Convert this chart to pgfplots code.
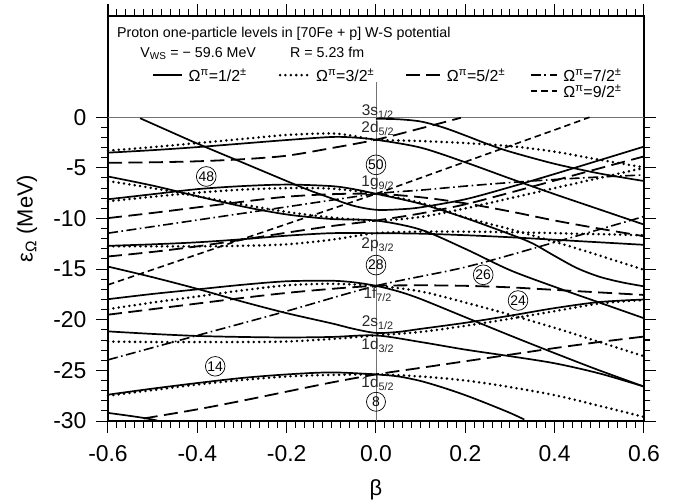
\documentclass[border=0pt]{standalone}
\usepackage{pgfplots}
\pgfplotsset{compat=1.18}
\usepackage{fontspec}
\setmainfont{Liberation Sans}
\setsansfont{Liberation Sans}
\pgfplotsset{
 oh/.style={black, line width=1.7bp, smooth, tension=0.5, no markers},
 th/.style={black, line width=2.8bp, line cap=round, dash pattern=on 0bp off 5.4bp, smooth, tension=0.5, no markers},
 fh/.style={black, line width=1.8bp, dash pattern=on 14bp off 6.5bp, smooth, tension=0.5, no markers},
 sh/.style={black, line width=1.6bp, dash pattern=on 10bp off 3.5bp on 1.6bp off 3.5bp, smooth, tension=0.5, no markers},
 nh/.style={black, line width=1.6bp, dash pattern=on 6.5bp off 4bp, smooth, tension=0.5, no markers},
 frame/.style={scale only axis, width=536bp, height=405bp,
  xmin=-0.6, xmax=0.6, ymin=-30, ymax=10,
  xtick={-0.6,-0.4,-0.2,0,0.2,0.4,0.6},
  ytick={-30,-25,-20,-15,-10,-5,0},
  minor x tick num=9, minor y tick num=4,
  tick align=outside,
  major tick length=12bp, minor tick length=6.5bp,
  every tick/.style={black, line width=1bp},
  axis line style={line width=1.1bp}},
}
\begin{document}
\begin{tikzpicture}
\useasboundingbox (-108bp,-82bp) rectangle (579bp,421bp);
% top and right ticks
\begin{axis}[frame, axis x line*=top, axis y line*=right,
  xticklabels={}, yticklabels={}, axis line style={-, black, line width=1.1bp}]
\end{axis}
\begin{axis}[
  frame,
  xticklabels={-0.6,-0.4,-0.2,0.0,0.2,0.4,0.6},
  yticklabels={-30,-25,-20,-15,-10,-5,0},
  tick pos=both,
  ticklabel style={font=\fontsize{23}{23}\selectfont},
  xticklabel style={yshift=-9bp},
  yticklabel style={xshift=-6bp},
  xlabel={β}, ylabel={ε\textsubscript{Ω} (MeV)},
  label style={font=\fontsize{22}{22}\selectfont},
  xlabel style={at={(axis description cs:0.5,-0.1704)}, anchor=center},
  ylabel style={at={(axis description cs:-0.1511,0.5)}, anchor=center},
  clip=false,
]
\draw[black, line width=1.1bp] (rel axis cs:0,1) -- (rel axis cs:1,1);
% reference lines
\draw[black!55, line width=0.8bp] (axis cs:-0.6,0) -- (axis cs:0.6,0);
\draw[black!55, line width=0.8bp] (axis cs:0,-30) -- (axis cs:0,3.45);

% Omega = 1/2 (solid)
\addplot[oh] coordinates {(0,-0.15) (0.05,-0.2) (0.1,-0.42) (0.15,-1.0) (0.2,-1.8) (0.25,-2.65) (0.3,-3.4) (0.4,-4.6) (0.5,-5.55) (0.6,-6.3)};
\addplot[oh] coordinates {(-0.6,-3.5) (-0.5,-3.25) (-0.4,-2.95) (-0.3,-2.6) (-0.2,-2.25) (-0.1,-1.95) (-0.05,-2.0) (0,-2.22) (0.1,-3.0) (0.2,-4.45) (0.3,-6.05) (0.4,-7.6) (0.5,-9.1) (0.6,-10.6)};
\addplot[oh] coordinates {(-0.528,-0.1) (-0.5,-0.65) (-0.4,-2.6) (-0.3,-4.45) (-0.2,-6.3) (-0.15,-7.2) (-0.1,-8.0) (-0.05,-8.75) (0,-9.14) (0.05,-9.1) (0.1,-8.9) (0.2,-8.1) (0.3,-6.9) (0.4,-5.6) (0.5,-4.25) (0.6,-2.9)};
\addplot[oh] coordinates {(-0.6,-8.1) (-0.5,-7.6) (-0.4,-7.1) (-0.3,-6.8) (-0.2,-6.65) (-0.1,-6.8) (-0.05,-7.1) (0,-7.56) (0.1,-8.55) (0.2,-9.95) (0.3,-11.55) (0.35,-12.45) (0.4,-13.7) (0.45,-14.9) (0.5,-15.75) (0.55,-16.3) (0.6,-16.7)};
\addplot[oh] coordinates {(-0.6,-5.85) (-0.5,-6.75) (-0.4,-7.8) (-0.3,-8.8) (-0.2,-9.6) (-0.1,-10.05) (0,-10.2) (0.1,-11.1) (0.2,-13.0) (0.3,-15.1) (0.4,-16.75) (0.5,-18.3) (0.6,-19.85)};
\addplot[oh] coordinates {(-0.6,-12.7) (-0.5,-12.55) (-0.4,-12.35) (-0.3,-12.05) (-0.2,-11.7) (-0.1,-11.45) (0,-11.45) (0.1,-11.5) (0.2,-11.65) (0.3,-11.85) (0.4,-12.1) (0.5,-12.35) (0.6,-12.6)};
\addplot[oh] coordinates {(-0.6,-17.97) (-0.5,-17.45) (-0.4,-17.0) (-0.3,-16.55) (-0.2,-16.2) (-0.1,-16.15) (-0.05,-16.3) (0,-16.65) (0.05,-17.2) (0.1,-17.95) (0.2,-19.75) (0.3,-21.55) (0.4,-23.3) (0.5,-25.0) (0.6,-26.6)};
\addplot[oh] coordinates {(-0.6,-14.75) (-0.5,-15.8) (-0.4,-16.95) (-0.3,-18.2) (-0.2,-19.35) (-0.1,-20.35) (-0.05,-20.9) (0,-21.3) (0.05,-21.2) (0.1,-20.9) (0.2,-20.3) (0.3,-19.6) (0.4,-18.85) (0.5,-18.25) (0.6,-18.0)};
\addplot[oh] coordinates {(-0.6,-21.15) (-0.5,-21.4) (-0.4,-21.6) (-0.3,-21.7) (-0.2,-21.75) (-0.1,-21.7) (0,-21.55) (0.1,-22.2) (0.2,-22.95) (0.3,-23.6) (0.4,-24.3) (0.5,-25.3) (0.6,-26.6)};
\addplot[oh] coordinates {(-0.6,-27.4) (-0.5,-26.8) (-0.4,-26.25) (-0.3,-25.75) (-0.2,-25.4) (-0.1,-25.2) (0,-25.4) (0.05,-25.6) (0.1,-26.05) (0.15,-26.7) (0.2,-27.45) (0.25,-28.3) (0.3,-29.2) (0.332,-29.85)};
\addplot[oh] coordinates {(-0.6,-29.2) (-0.55,-29.5) (-0.52,-29.7) (-0.49,-29.95)};

% Omega = 3/2 (dotted)
\addplot[th] coordinates {(-0.6,-3.3) (-0.5,-2.95) (-0.4,-2.55) (-0.3,-2.15) (-0.2,-1.75) (-0.1,-1.6) (-0.05,-1.85) (0,-2.22) (0.1,-2.35) (0.2,-2.55) (0.3,-2.85) (0.4,-3.4) (0.5,-4.2) (0.6,-4.95)};
\addplot[th] coordinates {(-0.6,-6.3) (-0.5,-7.0) (-0.4,-7.8) (-0.3,-8.6) (-0.2,-9.35) (-0.1,-9.9) (0,-10.2) (0.1,-9.85) (0.2,-9.0) (0.3,-8.0) (0.4,-7.0) (0.5,-6.0) (0.6,-5.0)};
\addplot[th] coordinates {(-0.6,-8.3) (-0.5,-7.85) (-0.4,-7.45) (-0.3,-7.15) (-0.2,-7.0) (-0.1,-7.05) (0,-7.56) (0.1,-8.45) (0.2,-9.9) (0.3,-11.05) (0.4,-12.3) (0.5,-13.65) (0.6,-15.07)};
\addplot[th] coordinates {(-0.6,-12.75) (-0.5,-12.75) (-0.4,-12.75) (-0.3,-12.7) (-0.2,-12.55) (-0.1,-12.1) (0,-11.45) (0.1,-11.3) (0.2,-11.3) (0.3,-11.35) (0.4,-11.45) (0.5,-11.55) (0.6,-11.65)};
\addplot[th] coordinates {(-0.6,-18.95) (-0.5,-18.3) (-0.4,-17.7) (-0.3,-17.1) (-0.2,-16.6) (-0.1,-16.45) (0,-16.65) (0.1,-17.2) (0.2,-18.3) (0.3,-19.5) (0.4,-20.8) (0.5,-22.2) (0.6,-23.6)};
\addplot[th] coordinates {(-0.6,-22.15) (-0.5,-22.2) (-0.4,-22.2) (-0.3,-22.2) (-0.2,-22.15) (-0.1,-21.9) (0,-21.55) (0.1,-21.2) (0.2,-20.6) (0.3,-19.9) (0.4,-19.15) (0.5,-18.4) (0.6,-18.05)};
\addplot[th] coordinates {(-0.6,-27.5) (-0.5,-26.95) (-0.4,-26.4) (-0.3,-25.95) (-0.2,-25.6) (-0.1,-25.45) (0,-25.4) (0.1,-25.6) (0.2,-26.0) (0.3,-26.65) (0.4,-27.45) (0.5,-28.5) (0.6,-29.6)};

% Omega = 5/2 (long dash)
\addplot[fh] coordinates {(-0.6,-4.5) (-0.5,-4.45) (-0.4,-4.35) (-0.3,-4.15) (-0.2,-3.8) (-0.1,-3.05) (0,-2.22) (0.1,-1.1) (0.19,-0.05)};
\addplot[fh] coordinates {(-0.6,-9.96) (-0.5,-9.45) (-0.4,-8.9) (-0.3,-8.35) (-0.2,-7.85) (-0.1,-7.6) (0,-7.56) (0.1,-7.9) (0.2,-8.5) (0.3,-9.3) (0.4,-10.2) (0.5,-11.0) (0.6,-11.75)};
\addplot[fh] coordinates {(-0.6,-13.75) (-0.5,-13.3) (-0.4,-12.75) (-0.3,-12.1) (-0.2,-11.4) (-0.1,-10.75) (0,-10.2) (0.1,-9.5) (0.2,-8.6) (0.3,-7.45) (0.4,-6.25) (0.5,-5.05) (0.6,-3.87)};
\addplot[fh] coordinates {(-0.6,-19.5) (-0.5,-18.95) (-0.4,-18.4) (-0.3,-17.85) (-0.2,-17.35) (-0.1,-16.95) (0,-16.65) (0.1,-16.6) (0.2,-16.65) (0.3,-16.8) (0.4,-17.05) (0.5,-17.3) (0.6,-17.55)};
\addplot[fh] coordinates {(-0.52,-29.75) (-0.4,-28.85) (-0.3,-28.0) (-0.2,-27.1) (-0.1,-26.2) (0,-25.4) (0.1,-24.75) (0.2,-24.1) (0.3,-23.45) (0.4,-22.8) (0.5,-22.2) (0.6,-21.66)};

% Omega = 7/2 (dash-dot)
\addplot[sh] coordinates {(-0.6,-11.45) (-0.4,-10.15) (-0.2,-8.85) (0,-7.56) (0.1,-7.2) (0.2,-6.8) (0.3,-6.45) (0.4,-6.15) (0.5,-5.9) (0.6,-5.7)};
\addplot[sh] coordinates {(-0.6,-23.96) (-0.4,-21.55) (-0.2,-19.15) (0,-16.65) (0.2,-14.8) (0.4,-12.35) (0.6,-9.8)};

% Omega = 9/2 (short dash)
\addplot[nh] coordinates {(-0.6,-16.55) (-0.4,-13.55) (-0.2,-10.55) (0,-7.56) (0.2,-4.4) (0.4,-1.25) (0.478,0)};

% header texts
\node[anchor=west, font=\fontsize{14.3}{14.3}\selectfont] at (axis cs:-0.5877,8.25) {Proton one-particle levels in [70Fe + p] W-S potential};
\node[anchor=west, font=\fontsize{14.3}{14.3}\selectfont] at (axis cs:-0.5353,6.29) {V\textsubscript{WS} = − 59.6 MeV\hspace{2.4em}R = 5.23 fm};
% legend
\begin{scope}[every node/.style={anchor=west, font=\fontsize{16}{16}\selectfont}]
\draw[black, line width=1.7bp] (axis cs:-0.4993,4.16) -- (axis cs:-0.4351,4.16);
\node at (axis cs:-0.4273,4.16) {Ω\textsuperscript{π}=1/2\textsuperscript{±}};
\draw[black, line width=2.8bp, line cap=round, dash pattern=on 0bp off 5.4bp] (axis cs:-0.2148,4.16) -- (axis cs:-0.1499,4.16);
\node at (axis cs:-0.142,4.16) {Ω\textsuperscript{π}=3/2\textsuperscript{±}};
\draw[black, line width=1.8bp, dash pattern=on 14bp off 6.5bp] (axis cs:0.0671,4.16) -- (axis cs:0.1432,4.16);
\node at (axis cs:0.151,4.16) {Ω\textsuperscript{π}=5/2\textsuperscript{±}};
\draw[black, line width=1.6bp, dash pattern=on 10bp off 3.5bp on 1.6bp off 3.5bp] (axis cs:0.3468,4.16) -- (axis cs:0.4063,4.16);
\node at (axis cs:0.4116,4.16) {Ω\textsuperscript{π}=7/2\textsuperscript{±}};
\draw[black, line width=1.6bp, dash pattern=on 6.5bp off 4bp] (axis cs:0.3468,2.57) -- (axis cs:0.4063,2.57);
\node at (axis cs:0.4116,2.57) {Ω\textsuperscript{π}=9/2\textsuperscript{±}};
\end{scope}

% spherical labels
\begin{scope}[every node/.style={font=\fontsize{15.5}{15.5}\selectfont, text=black!85}]
\node at (axis cs:0.004,0.57) {3s\textsubscript{1/2}};
\node at (axis cs:0.004,-1.07) {2d\textsubscript{5/2}};
\node at (axis cs:0.004,-6.5) {1g\textsubscript{9/2}};
\node at (axis cs:0.004,-12.6) {2p\textsubscript{3/2}};
\node at (axis cs:0.004,-17.5) {1f\textsubscript{7/2}};
\node at (axis cs:0.004,-20.3) {2s\textsubscript{1/2}};
\node at (axis cs:0.004,-22.5) {1d\textsubscript{3/2}};
\node at (axis cs:0.004,-26.3) {1d\textsubscript{5/2}};
\end{scope}
% magic numbers
\begin{scope}[every node/.style={draw, circle, line width=0.7bp, inner sep=0.5bp, minimum size=19bp, font=\fontsize{14}{14}\selectfont}]
\node at (axis cs:0,-4.7) {50};
\node at (axis cs:0,-14.6) {28};
\node at (axis cs:0,-28.1) {8};
\node at (axis cs:-0.38,-5.85) {48};
\node at (axis cs:0.24,-15.56) {26};
\node at (axis cs:0.318,-18.1) {24};
\node at (axis cs:-0.36,-24.6) {14};
\end{scope}
\end{axis}
\end{tikzpicture}
\end{document}
